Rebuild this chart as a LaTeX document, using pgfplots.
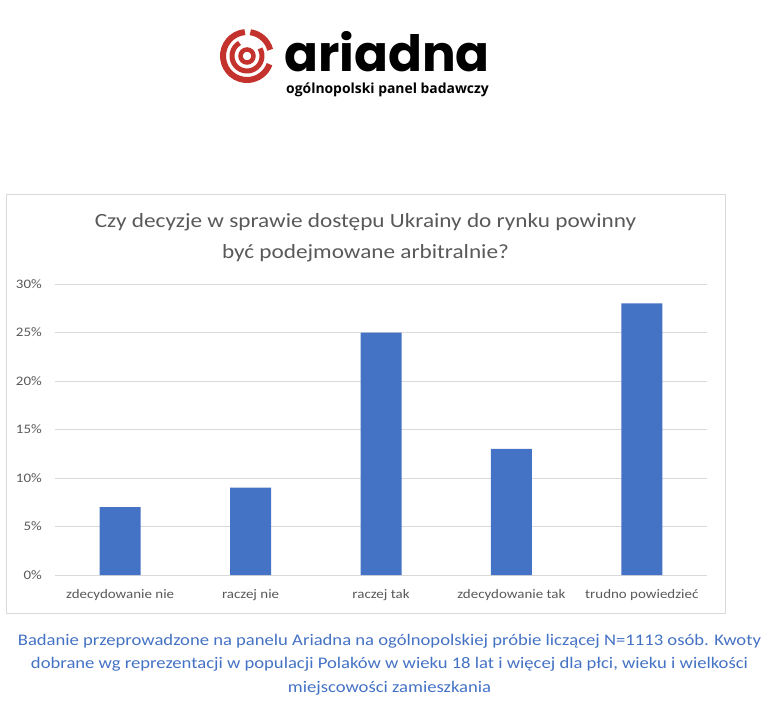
\documentclass[border=0pt]{standalone}
\usepackage{fontspec}
\setmainfont{Carlito}
\newfontfamily\chartfont[FakeStretch=1.15]{Carlito}
\newfontfamily\logofont{Poppins}
\newfontfamily\subfont{Open Sans}
\usepackage{pgfplots}
\pgfplotsset{compat=1.18}
\definecolor{barblue}{RGB}{68,114,196}
\definecolor{gridgray}{RGB}{217,217,217}
\definecolor{labelgray}{RGB}{89,89,89}
\definecolor{notecolor}{RGB}{68,114,196}
\definecolor{logored}{RGB}{196,50,45}

\begin{document}
\begin{tikzpicture}[x=1pt,y=1pt]
\path[use as bounding box] (0,0) rectangle (773,705);

% logo
\begin{scope}[logored]
  \draw[line width=4.5] (247,649) circle (6.5);
  \draw[line width=5] (247,649) ++(120:15) arc[start angle=120, end angle=390, radius=15];
  \draw[line width=6] (247,649) ++(95:24) arc[start angle=95, end angle=340, radius=24];
  \draw[line width=6] (247,649) ++(82:24) arc[start angle=82, end angle=15, radius=24];
\end{scope}
\node[anchor=base west, inner sep=0pt, font=\logofont\bfseries\fontsize{50}{50}\selectfont] at (284,633) {ariadna};
\node[anchor=base west, inner sep=0pt, font=\subfont\bfseries\fontsize{13.9}{14}\selectfont] at (286,611) {ogólnopolski panel badawczy};

% chart frame
\draw[gridgray, line width=1pt] (6,92) rectangle (725,510);
\node[font=\chartfont\fontsize{20.2}{20}\selectfont, text=labelgray] at (365.5,483) {Czy decyzje w sprawie dostępu Ukrainy do rynku powinny};
\node[font=\chartfont\fontsize{20.2}{20}\selectfont, text=labelgray] at (365.5,452) {być podejmowane arbitralnie?};

\begin{axis}[
  at={(55pt,130pt)}, anchor=south west,
  scale only axis, width=652pt, height=291pt,
  xmin=-0.5, xmax=4.5, ymin=0, ymax=30,
  ybar, bar width=41pt,
  axis line style={draw=none},
  major tick length=0pt,
  ytick={0,5,...,30},
  yticklabel={\pgfmathprintnumber{\tick}\%},
  ymajorgrids, grid style={gridgray, line width=0.9pt},
  xtick=data,
  xticklabels={zdecydowanie nie, raczej nie, raczej tak, zdecydowanie tak, trudno powiedzieć},
  tick label style={font=\chartfont\fontsize{13}{15}\selectfont, text=labelgray},
  /pgf/number format/assume math mode=true,
  yticklabel style={inner sep=0pt, xshift=-13pt},
  xticklabel style={inner sep=0pt, yshift=-14pt},
]
\addplot[fill=barblue, draw=none] coordinates {(0,7) (1,9) (2,25) (3,13) (4,28)};
\end{axis}

% footnote
\begin{scope}[font=\chartfont\fontsize{16.2}{16}\selectfont, text=notecolor]
  \node at (389.5,64) {Badanie przeprowadzone na panelu Ariadna na ogólnopolskiej próbie liczącej N=1113 osób. Kwoty};
  \node at (389.5,41) {dobrane wg reprezentacji w populacji Polaków w wieku 18 lat i więcej dla płci, wieku i wielkości};
  \node at (389.5,17) {miejscowości zamieszkania};
\end{scope}
\end{tikzpicture}
\end{document}
